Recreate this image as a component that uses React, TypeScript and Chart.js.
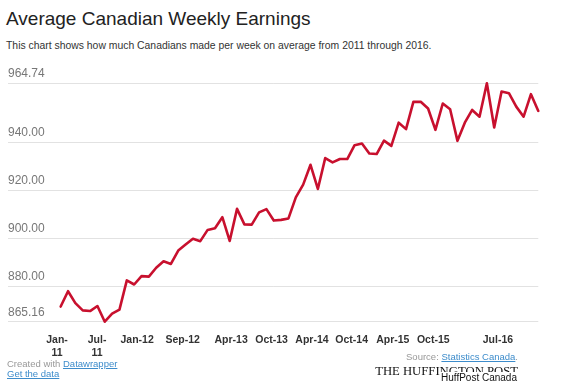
import React, { useEffect, useRef } from 'react';
import { Chart, registerables } from 'chart.js';

Chart.register(...registerables);

// Monthly categories (Jan-11 .. Jun-16)
const CATEGORIES = [
  'Jan-11', 'Feb-11', 'Mar-11', 'Apr-11', 'May-11', 'Jun-11', 'Jul-11', 'Aug-11', 'Sep-11', 'Oct-11', 'Nov-11', 'Dec-11',
  'Jan-12', 'Feb-12', 'Mar-12', 'Apr-12', 'May-12', 'Jun-12', 'Jul-12', 'Aug-12', 'Sep-12', 'Oct-12', 'Nov-12', 'Dec-12',
  'Jan-13', 'Feb-13', 'Mar-13', 'Apr-13', 'May-13', 'Jun-13', 'Jul-13', 'Aug-13', 'Sep-13', 'Oct-13', 'Nov-13', 'Dec-13',
  'Jan-14', 'Feb-14', 'Mar-14', 'Apr-14', 'May-14', 'Jun-14', 'Jul-14', 'Aug-14', 'Sep-14', 'Oct-14', 'Nov-14', 'Dec-14',
  'Jan-15', 'Feb-15', 'Mar-15', 'Apr-15', 'May-15', 'Jun-15', 'Jul-15', 'Aug-15', 'Sep-15', 'Oct-15', 'Nov-15', 'Dec-15',
  'Jan-16', 'Feb-16', 'Mar-16', 'Apr-16', 'May-16', 'Jun-16',
];

// Average weekly earnings (CAD)
const EARNINGS = [
  871.5, 877.9, 872.9, 869.9, 869.6, 871.7, 865.16, 868.5, 870.2, 882.4, 880.7, 884.2,
  884.0, 887.7, 890.4, 889.3, 894.9, 897.4, 899.8, 898.8, 903.5, 904.2, 908.8, 898.9,
  912.3, 905.8, 905.7, 910.8, 912.2, 907.4, 907.7, 908.3, 917.1, 922.4, 930.7, 920.6,
  933.5, 931.7, 933.1, 933.1, 938.9, 939.6, 935.4, 935.2, 940.8, 938.6, 948.3, 945.6,
  957.0, 957.0, 954.2, 945.3, 956.3, 953.9, 940.7, 948.3, 953.6, 950.8, 964.74, 946.3,
  961.3, 960.6, 955.0, 950.8, 960.2, 953.2,
];

// Axis ticks
const Y_TICKS = [865.16, 880, 900, 920, 940, 964.74];
const X_TICK_LABELS: (string | string[])[] = [
  ['Jan-', '11'], ['Jul-', '11'], 'Jan-12', 'Sep-12', 'Apr-13', 'Oct-13', 'Apr-14', 'Oct-14', 'Apr-15', 'Oct-15', 'Jul-16',
];
// where the reference places each x label, in month-index units
const X_TICK_AT = [-0.5, 4.95, 10.4, 16.6, 23.2, 28.7, 34.2, 39.6, 45.2, 50.7, 59.5];

const FONT = '"Liberation Sans", Arial, Helvetica, sans-serif';
const RED = '#c8102e';
const LINK = '#3d8ccb';

export default function App() {
  const ref = useRef<HTMLCanvasElement>(null);

  useEffect(() => {
    const chart = new Chart(ref.current as HTMLCanvasElement, {
      type: 'line',
      data: {
        datasets: [
          {
            label: 'Average weekly earnings',
            data: EARNINGS.map((v, i) => ({ x: i, y: v })),
            borderColor: RED,
            borderWidth: 2.6,
            pointRadius: 0,
            tension: 0,
            borderJoinStyle: 'round',
            borderCapStyle: 'round',
            clip: false,
          } as any,
        ],
      },
      options: {
        animation: false,
        responsive: false,
        maintainAspectRatio: false,
        layout: { padding: { left: 8, right: 31.7, top: 23.3, bottom: 0 } },
        plugins: { legend: { display: false }, tooltip: { enabled: false } },
        scales: {
          x: {
            type: 'linear',
            min: -7.17,
            max: EARNINGS.length - 1,
            grid: { display: false, drawTicks: false },
            border: { display: false },
            afterBuildTicks: (s: any) => {
              s.ticks = X_TICK_AT.map((v) => ({ value: v }));
            },
            afterFit: (s: any) => {
              s.height = 40.3;
            },
            ticks: {
              autoSkip: false,
              maxRotation: 0,
              minRotation: 0,
              padding: 11.5,
              color: '#333',
              font: { family: FONT, size: 10.5, weight: 'bold', lineHeight: 1.25 },
              callback: (_v: any, i: number) => X_TICK_LABELS[i] as any,
            },
          },
          y: {
            type: 'linear',
            min: Y_TICKS[0],
            max: Y_TICKS[Y_TICKS.length - 1],
            afterBuildTicks: (s: any) => {
              s.ticks = Y_TICKS.map((v) => ({ value: v }));
            },
            grid: { color: '#e2e2e2', lineWidth: 1, drawTicks: false },
            border: { display: false },
            ticks: {
              mirror: true,
              padding: 0,
              labelOffset: -9.5,
              color: '#777',
              font: { family: FONT, size: 12 },
              callback: (v: any) => Number(v).toFixed(2),
            },
          },
        },
      } as any,
    });
    return () => chart.destroy();
  }, []);

  const abs = (o: React.CSSProperties): React.CSSProperties => ({ position: 'absolute', whiteSpace: 'nowrap', margin: 0, ...o });

  return (
    <div style={{ position: 'absolute', left: 0, top: 0, width: 570, height: 385, background: '#fff', fontFamily: FONT, overflow: 'hidden' }}>
      <div style={abs({ left: 6, top: 9, fontSize: 19, lineHeight: '19px', color: '#222' })}>Average Canadian Weekly Earnings</div>
      <div style={abs({ left: 6, top: 41, fontSize: 10.4, lineHeight: '10.4px', color: '#333' })}>
        This chart shows how much Canadians made per week on average from 2011 through 2016.
      </div>
      <canvas ref={ref} width={570} height={302} style={{ position: 'absolute', left: 0, top: 60, width: 570, height: 302 }} />
      <div style={abs({ left: 7, top: 358.6, fontSize: 9.5, lineHeight: '9.5px', color: '#999' })}>
        Created with <span style={{ color: LINK, textDecoration: 'underline' }}>Datawrapper</span>
      </div>
      <div style={abs({ left: 7, top: 369.4, fontSize: 9.5, lineHeight: '9.5px', color: LINK, textDecoration: 'underline' })}>Get the data</div>
      <div style={abs({ right: 52, top: 352, fontSize: 9.5, lineHeight: '9.5px', color: '#999' })}>
        Source: <span style={{ color: LINK, textDecoration: 'underline' }}>Statistics Canada</span>.
      </div>
      <div style={abs({ right: 52, top: 364.7, fontSize: 12.7, lineHeight: '12.7px', color: '#111', fontFamily: '"Liberation Serif", "Times New Roman", serif' })}>
        THE HUFFINGTON POST
      </div>
      <div style={abs({ right: 53, top: 372, paddingTop: 1, paddingLeft: 1, fontSize: 10, lineHeight: '10px', color: '#111', background: '#fff' })}>
        HuffPost Canada
      </div>
    </div>
  );
}
